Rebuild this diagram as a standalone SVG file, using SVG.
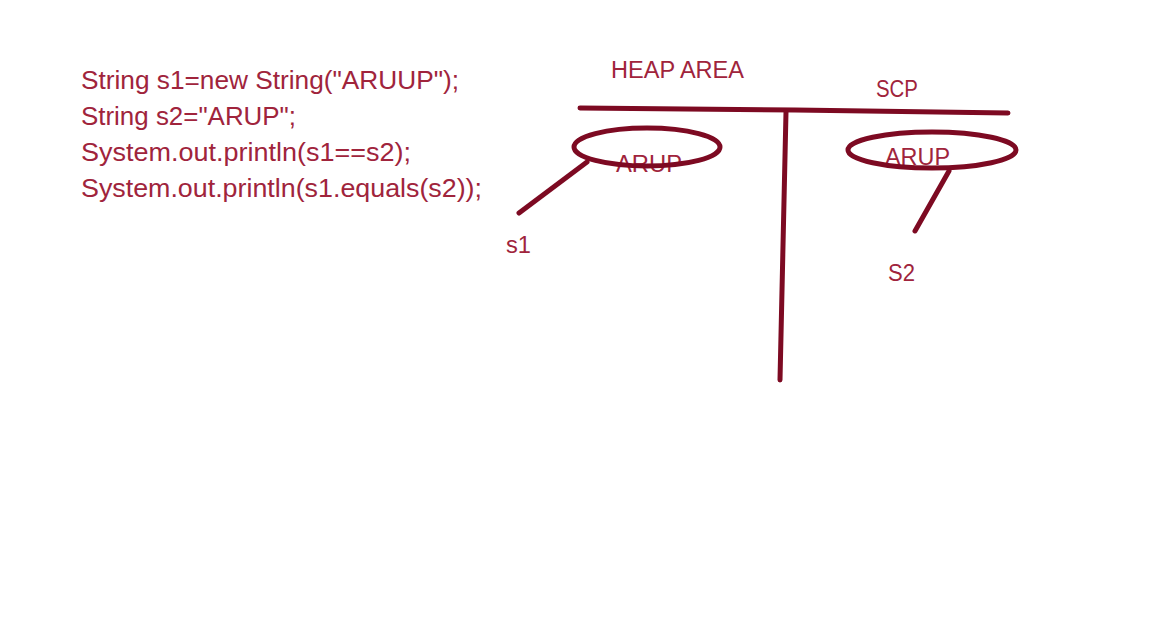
<svg xmlns="http://www.w3.org/2000/svg" width="1152" height="639" viewBox="0 0 1152 639">
<style>
.t{font-family:"Liberation Sans",Arial,sans-serif;fill:#A0243C;}
.code{font-size:25px;}
.lbl{font-size:23px;}
.ln{stroke:#7D0A22;stroke-width:5;fill:none;stroke-linecap:round;}
</style>
<rect width="1152" height="639" fill="#ffffff"/>
<g id="code">
<text class="t code" x="81" y="89" textLength="378" lengthAdjust="spacingAndGlyphs">String s1=new String("ARUUP");</text>
<text class="t code" x="81" y="125" textLength="215" lengthAdjust="spacingAndGlyphs">String s2="ARUP";</text>
<text class="t code" x="81" y="161" textLength="330" lengthAdjust="spacingAndGlyphs">System.out.println(s1==s2);</text>
<text class="t code" x="81" y="197" textLength="401" lengthAdjust="spacingAndGlyphs">System.out.println(s1.equals(s2));</text>
</g>
<g id="heap-label">
<text class="t lbl" x="611" y="78" textLength="133" lengthAdjust="spacingAndGlyphs">HEAP AREA</text>
</g>
<g id="scp-label">
<text class="t lbl" x="876" y="97" textLength="42" lengthAdjust="spacingAndGlyphs">SCP</text>
</g>
<g id="divider">
<path class="ln" d="M580,108 L795,110 L1008,113"/>
<path class="ln" d="M786,112 L780,380"/>
</g>
<g id="heap-obj">
<text class="t lbl" x="616" y="172" textLength="66" lengthAdjust="spacingAndGlyphs">ARUP</text>
<ellipse class="ln" cx="647" cy="147" rx="73" ry="19"/>
</g>
<g id="scp-obj">
<text class="t lbl" x="885" y="165" textLength="65" lengthAdjust="spacingAndGlyphs">ARUP</text>
<ellipse class="ln" cx="932" cy="150" rx="84" ry="18"/>
</g>
<g id="connectors">
<path class="ln" d="M587,162 L519,213"/>
<path class="ln" d="M949,171 L915,231"/>
</g>
<g id="s1">
<text class="t lbl" x="506" y="253" textLength="25" lengthAdjust="spacingAndGlyphs">s1</text>
</g>
<g id="s2">
<text class="t lbl" x="888" y="281" textLength="27" lengthAdjust="spacingAndGlyphs">S2</text>
</g>
</svg>
